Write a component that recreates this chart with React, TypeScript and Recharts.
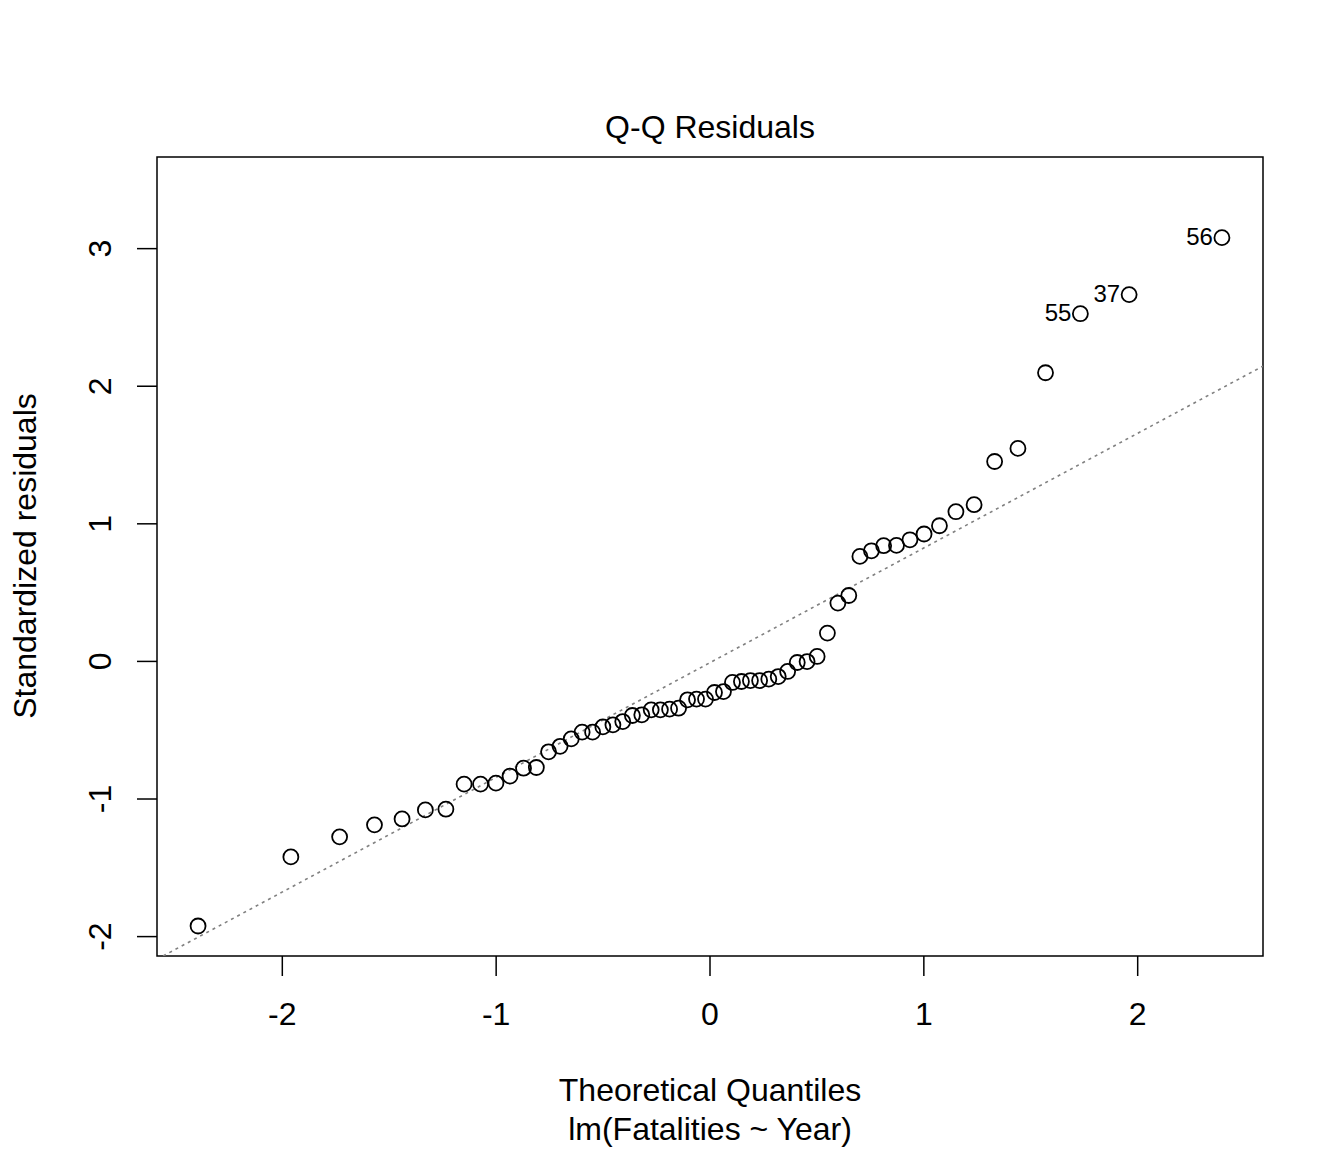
import React from 'react';
import {
    ScatterChart,
    Scatter,
    XAxis,
    YAxis,
    ReferenceLine,
    ReferenceArea,
} from 'recharts';

// theoretical normal quantiles (60 points)
const theoreticalQuantiles = [
    -2.394, -1.960, -1.732, -1.569, -1.440, -1.331, -1.235, -1.150, -1.073, -1.001,
    -0.935, -0.872, -0.812, -0.755, -0.701, -0.649, -0.598, -0.549, -0.501, -0.454,
    -0.408, -0.363, -0.319, -0.275, -0.232, -0.189, -0.147, -0.105, -0.063, -0.021,
    0.021, 0.063, 0.105, 0.147, 0.189, 0.232, 0.275, 0.319, 0.363, 0.408,
    0.454, 0.501, 0.549, 0.598, 0.649, 0.701, 0.755, 0.812, 0.872, 0.935,
    1.001, 1.073, 1.150, 1.235, 1.331, 1.440, 1.569, 1.732, 1.960, 2.394,
];

// sorted standardized residuals
const standardizedResiduals = [
    -1.923, -1.421, -1.275, -1.188, -1.145, -1.079, -1.074, -0.892, -0.892, -0.885,
    -0.833, -0.776, -0.771, -0.657, -0.617, -0.563, -0.514, -0.514, -0.476, -0.461,
    -0.437, -0.393, -0.388, -0.352, -0.352, -0.347, -0.340, -0.279, -0.274, -0.274,
    -0.226, -0.219, -0.153, -0.146, -0.139, -0.139, -0.129, -0.110, -0.073, -0.008,
    -0.001, 0.036, 0.206, 0.424, 0.479, 0.763, 0.804, 0.841, 0.843, 0.884,
    0.926, 0.986, 1.088, 1.139, 1.453, 1.548, 2.098, 2.527, 2.666, 3.080,
];

// observation ids shown next to the three largest residuals
const idLabels = ['55', '37', '56'];

const xTicks = [-2, -1, 0, 1, 2];
const yTicks = [-2, -1, 0, 1, 2, 3];
const xDomain = [-2.586, 2.586];
const yDomain = [-2.141, 3.666];

// qqline through the quartiles
const qqLineIntercept = -0.009;
const qqLineSlope = 0.8335;

const FONT = '"Liberation Sans", Arial, Helvetica, sans-serif';

const data = theoreticalQuantiles.map((x, i) => {
    const fromEnd = theoreticalQuantiles.length - i;
    const label = fromEnd <= idLabels.length ? idLabels[idLabels.length - fromEnd] : null;
    return { x, y: standardizedResiduals[i], label };
});

const PointShape = (props) => {
    const { cx, cy, payload } = props;
    return (
        <g>
            <circle cx={cx} cy={cy} r={7.5} fill="none" stroke="#000" strokeWidth={1.8} />
            {payload.label && (
                <text x={cx - 9} y={cy + 7} textAnchor="end" fontSize={24} fontFamily={FONT} fill="#000">
                    {payload.label}
                </text>
            )}
        </g>
    );
};

const XTick = ({ x, y, payload }) => (
    <text x={x} y={y + 47} textAnchor="middle" fontSize={32} fontFamily={FONT} fill="#000">
        {String(payload.value)}
    </text>
);

const YTick = ({ x, y, payload }) => (
    <text
        x={x - 24}
        y={y}
        transform={`rotate(-90, ${x - 24}, ${y})`}
        textAnchor="middle"
        fontSize={32}
        fontFamily={FONT}
        fill="#000"
    >
        {String(payload.value)}
    </text>
);

export default function App() {
    return (
        <div style={{ position: 'absolute', left: 0, top: 0, background: '#fff' }}>
            <ScatterChart
                width={1344}
                height={1152}
                margin={{ top: 157, right: 81, bottom: 126, left: 77 }}
            >
                <XAxis
                    type="number"
                    dataKey="x"
                    domain={xDomain}
                    ticks={xTicks}
                    allowDataOverflow
                    height={70}
                    axisLine={false}
                    tickSize={20}
                    tickLine={{ stroke: '#000', strokeWidth: 1.5 }}
                    tick={XTick}
                    interval={0}
                />
                <YAxis
                    type="number"
                    dataKey="y"
                    domain={yDomain}
                    ticks={yTicks}
                    allowDataOverflow
                    width={80}
                    axisLine={false}
                    tickSize={20}
                    tickLine={{ stroke: '#000', strokeWidth: 1.5 }}
                    tick={YTick}
                    interval={0}
                />
                <ReferenceLine
                    segment={[
                        { x: xDomain[0], y: qqLineIntercept + qqLineSlope * xDomain[0] },
                        { x: xDomain[1], y: qqLineIntercept + qqLineSlope * xDomain[1] },
                    ]}
                    stroke="#808080"
                    strokeWidth={1.6}
                    strokeDasharray="3 4"
                    ifOverflow="hidden"
                />
                <Scatter data={data} shape={PointShape} isAnimationActive={false} />
                <ReferenceArea
                    x1={xDomain[0]}
                    x2={xDomain[1]}
                    y1={yDomain[0]}
                    y2={yDomain[1]}
                    fill="none"
                    stroke="#000"
                    strokeWidth={1.5}
                    ifOverflow="visible"
                />
                <text x={710} y={138} textAnchor="middle" fontSize={32} fontFamily={FONT} fill="#000">
                    Q-Q Residuals
                </text>
                <text x={710} y={1101} textAnchor="middle" fontSize={32} fontFamily={FONT} fill="#000">
                    Theoretical Quantiles
                </text>
                <text x={710} y={1140} textAnchor="middle" fontSize={32} fontFamily={FONT} fill="#000">
                    lm(Fatalities ~ Year)
                </text>
                <text
                    x={36}
                    y={556}
                    transform="rotate(-90, 36, 556)"
                    textAnchor="middle"
                    fontSize={32}
                    fontFamily={FONT}
                    fill="#000"
                >
                    Standardized residuals
                </text>
            </ScatterChart>
        </div>
    );
}
